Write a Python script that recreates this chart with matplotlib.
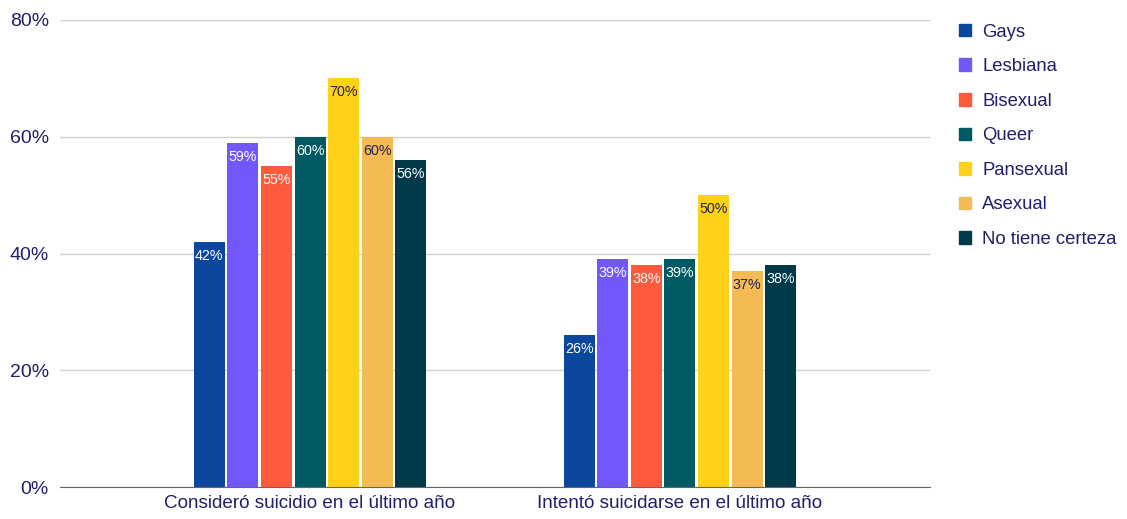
import matplotlib
matplotlib.use("Agg")
import matplotlib.pyplot as plt
import numpy as np

categories = ["Consideró suicidio en el último año", "Intentó suicidarse en el último año"]
series_names = ["Gays", "Lesbiana", "Bisexual", "Queer", "Pansexual", "Asexual", "No tiene certeza"]
gays = [42, 26]
lesbiana = [59, 39]
bisexual = [55, 38]
queer = [60, 39]
pansexual = [70, 50]
asexual = [60, 37]
no_certeza = [56, 38]
series_values = [gays, lesbiana, bisexual, queer, pansexual, asexual, no_certeza]
colors = ["#0b479c", "#7258fb", "#ff5a3b", "#005a63", "#ffd118", "#f4bb55", "#00394a"]
label_colors = ["white", "white", "white", "white", "#1f1f5e", "#1f1f5e", "white"]
yticks = [0, 20, 40, 60, 80]

text_color = "#1f1f6b"
plt.rcParams['font.family'] = ['Liberation Sans', 'DejaVu Sans']

fig = plt.figure(figsize=(11.27, 5.19), dpi=100)
ax = fig.add_axes([60/1127, 32/519, 870/1127, 467/519])

x = np.arange(len(categories))
step = 0.0908
width = 0.084
n = len(series_names)
for i, (name, vals) in enumerate(zip(series_names, series_values)):
    pos = x + (i - (n - 1) / 2) * step
    bars = ax.bar(pos, vals, width, color=colors[i], label=name, zorder=3)
    for b, v in zip(bars, vals):
        ax.text(b.get_x() + b.get_width() / 2, v - 1.2, f"{v}%", ha="center", va="top",
                fontsize=10.3, color=label_colors[i], zorder=4)

ax.set_xlim(-0.676, 1.676)
ax.set_ylim(0, 80)
ax.set_yticks(yticks)
ax.set_yticklabels([f"{t}%" for t in yticks], fontsize=14, color=text_color)
ax.set_xticks(x)
ax.set_xticklabels(categories, fontsize=13.6, color=text_color)
ax.tick_params(axis="both", length=0, pad=6)
ax.tick_params(axis="y", pad=8)
ax.grid(axis="y", color="#d0d0d0", linewidth=1, zorder=0)
for s in ["top", "right", "left"]:
    ax.spines[s].set_visible(False)
ax.spines["bottom"].set_color("#666666")
ax.spines["bottom"].set_zorder(5)

handles = [plt.Rectangle((0, 0), 1, 1, color=c) for c in colors]
leg = fig.legend(handles, series_names, loc="upper left", bbox_to_anchor=(942/1127, 1 - 7/519),
                 frameon=False, fontsize=13.3, handlelength=0.67, handleheight=0.67,
                 handletextpad=0.6, labelspacing=0.95, labelcolor=text_color)

fig.savefig("out.png", dpi=100)
